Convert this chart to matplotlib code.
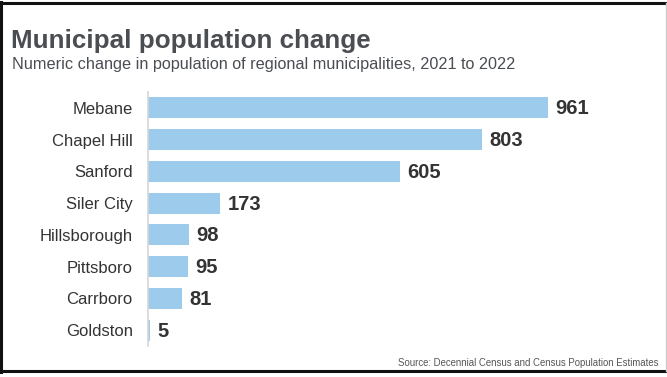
import matplotlib

matplotlib.use("Agg")
import matplotlib.pyplot as plt

plt.rcParams["font.family"] = ["Liberation Sans", "DejaVu Sans"]

towns = ["Mebane", "Chapel Hill", "Sanford", "Siler City", "Hillsborough",
         "Pittsboro", "Carrboro", "Goldston"]
change = [961, 803, 605, 173, 98, 95, 81, 5]

BAR = "#9dcbec"
TXT = "#333333"

fig = plt.figure(figsize=(6.67, 3.77), dpi=100)
W, H = 667, 377


def px_line(x0, y0, x1, y1, **kw):
    fig.add_artist(plt.Line2D([x0 / W, x1 / W], [1 - y0 / H, 1 - y1 / H],
                              transform=fig.transFigure, **kw))


# frame round the graphic: dark on three sides, light on the right
px_line(1.5, 3, 666, 3, color="#111111", lw=2.2)
px_line(1.5, 371, 666, 371, color="#111111", lw=2.2)
px_line(1.5, 2, 1.5, 372, color="#111111", lw=2.2)
px_line(666, 3, 666, 371, color="#cccccc", lw=1)

ax = fig.add_axes([148 / W, 1 - 346 / H, 400 / W, 254 / H])
y = list(range(len(towns)))
ax.barh(y, change, height=0.66, color=BAR)
ax.set_xlim(0, 961)
ax.set_ylim(len(towns) - 0.5, -0.5)
ax.set_yticks(y)
ax.set_yticklabels(towns, fontsize=12, color=TXT)
ax.tick_params(axis="y", length=0, pad=11)
ax.set_xticks([])
for s in ["top", "right", "bottom"]:
    ax.spines[s].set_visible(False)
ax.spines["left"].set_color("#d6d6d6")
ax.spines["left"].set_linewidth(1.2)

for yi, v in zip(y, change):
    ax.text(v + 18, yi + 0.03, f"{v}", va="center", ha="left", fontsize=14.5,
            fontweight="bold", color=TXT, clip_on=False)

fig.text(11 / W, 1 - 41 / H, "Municipal population change", fontsize=18.7,
         fontweight="bold", color="#4a4d52", va="center", ha="left")
fig.text(12 / W, 1 - 64 / H,
         "Numeric change in population of regional municipalities, 2021 to 2022",
         fontsize=11.7, color="#4a4d52", va="center", ha="left")
fig.text(659 / W, 1 - 362.5 / H, "Source: Decennial Census and Census Population Estimates",
         fontsize=6.9, color="#555555", va="center", ha="right")

fig.savefig("out.png", dpi=100)
